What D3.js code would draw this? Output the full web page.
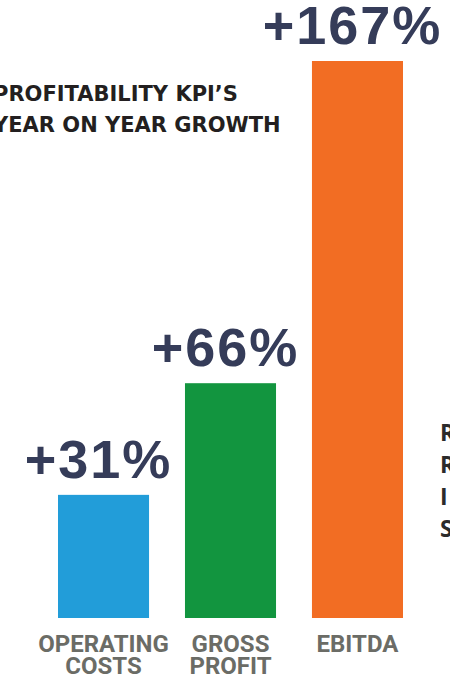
<!DOCTYPE html>
<html>
<head>
<meta charset="utf-8">
<script src="https://cdn.jsdelivr.net/npm/d3@7"></script>
<style>
  html, body { margin: 0; padding: 0; background: #fff; overflow: hidden; }
  svg { display: block; }
</style>
</head>
<body>
<div id="chart"></div>
<script>
// data
const categories = ["OPERATING COSTS", "GROSS PROFIT", "EBITDA"];
const axisLines = [["OPERATING", "COSTS"], ["GROSS", "PROFIT"], ["EBITDA"]];
const growth = [31, 66, 167];
const barColors = ["#229dd9", "#12953f", "#f26d23"];
const titleLines = ["PROFITABILITY KPI\u2019S", "YEAR ON YEAR GROWTH"];
const sideLetters = ["R", "R", "I", "S"];

const width = 450;
const height = 678;

const svg = d3.select("#chart")
    .append("svg")
    .attr("width", width)
    .attr("height", height);

const x = d3.scaleBand()
    .domain(categories)
    .range([58, 403])
    .paddingInner(0.283)
    .paddingOuter(0);

const y = d3.scaleLinear()
    .domain([-7.6, 167])
    .range([618, 61]);

// bars
svg.append("g")
    .selectAll("rect")
    .data(growth)
    .enter().append("rect")
    .attr("x", (d, i) => x(categories[i]))
    .attr("y", d => y(d))
    .attr("width", x.bandwidth())
    .attr("height", d => y.range()[0] - y(d))
    .attr("fill", (d, i) => barColors[i]);

// value labels
svg.append("g")
    .selectAll("text")
    .data(growth)
    .enter().append("text")
    .attr("x", (d, i) => x(categories[i]) + x.bandwidth() / 2 - 5)
    .attr("y", d => y(d) - 17)
    .attr("text-anchor", "middle")
    .attr("font-family", "'Liberation Sans', Arial, sans-serif")
    .attr("font-weight", 700)
    .attr("font-size", 54)
    .attr("letter-spacing", 2)
    .attr("fill", "#353c59")
    .text(d => "+" + d + "%");

// category labels under bars
const cat = svg.append("g")
    .selectAll("text")
    .data(axisLines)
    .enter().append("text")
    .attr("text-anchor", "middle")
    .attr("font-family", "Roboto, sans-serif")
    .attr("font-weight", 700)
    .attr("font-size", 24)
    .attr("fill", "#6b6c66");

cat.selectAll("tspan")
    .data((d, i) => d.map(t => ({ t, i })))
    .enter().append("tspan")
    .attr("x", d => x(categories[d.i]) + x.bandwidth() / 2)
    .attr("y", (d, j) => 652 + j * 22)
    .text(d => d.t);

// title
svg.append("g")
    .selectAll("text")
    .data(titleLines)
    .enter().append("text")
    .attr("x", -7)
    .attr("y", (d, i) => 101 + i * 31)
    .attr("font-family", "'DejaVu Sans', sans-serif")
    .attr("font-weight", 700)
    .attr("font-size", 21)
    .attr("fill", "#231f20")
    .text(d => d);

// cut-off text on the right edge
svg.append("g")
    .selectAll("text")
    .data(sideLetters)
    .enter().append("text")
    .attr("x", 440)
    .attr("y", (d, i) => 441 + i * 32)
    .attr("font-family", "'Open Sans', sans-serif")
    .attr("font-weight", 700)
    .attr("font-size", 23)
    .attr("fill", "#2b2b2b")
    .text(d => d);
</script>
</body>
</html>
